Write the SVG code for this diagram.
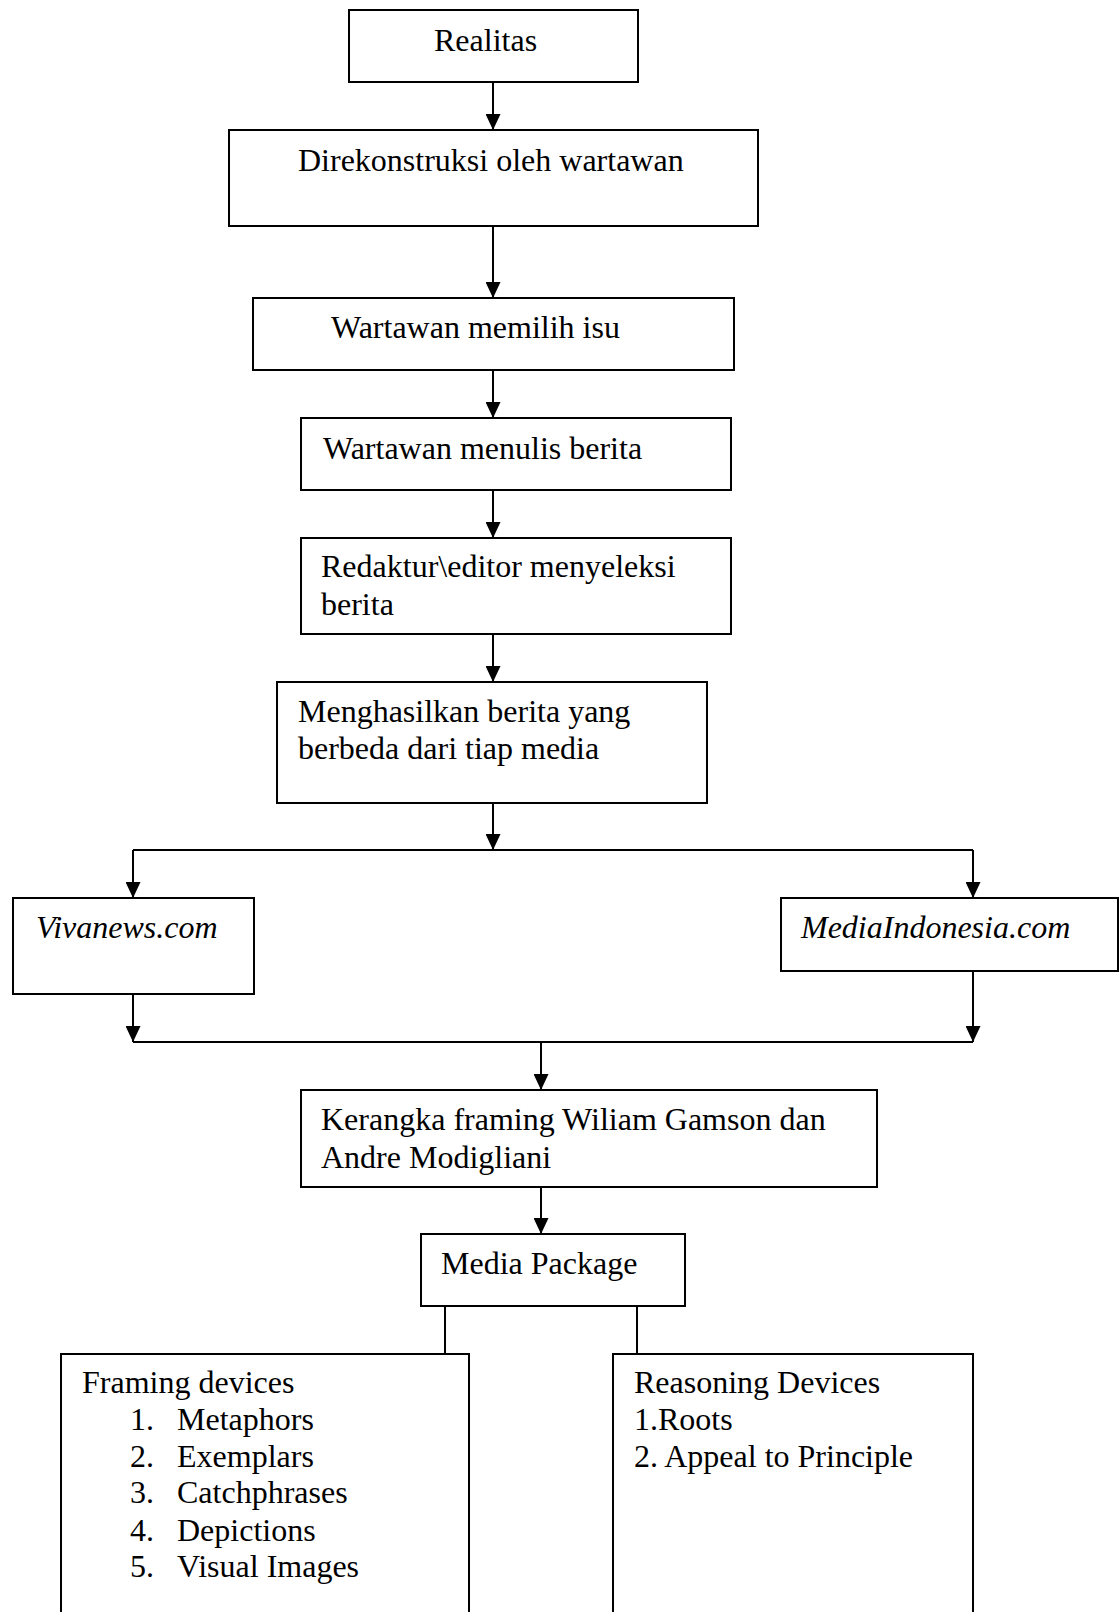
<svg xmlns="http://www.w3.org/2000/svg" width="1120" height="1612" viewBox="0 0 1120 1612">
<style>
rect{fill:#fff;stroke:#000;stroke-width:2}
line{stroke:#000;stroke-width:2}
text{font-family:"Liberation Serif","Times New Roman",serif;font-size:32px;fill:#000}
.it{font-style:italic}
</style>
<defs>
<marker id="ah" markerUnits="userSpaceOnUse" markerWidth="16" markerHeight="15" refX="16" refY="7.5" orient="auto">
<path d="M0,0 L16,7.5 L0,15 z" fill="#000"/>
</marker>
</defs>
<rect x="0" y="0" width="1120" height="1612" style="stroke:none"/>
<g id="connectors">
<line x1="493" y1="82" x2="493" y2="130" marker-end="url(#ah)"/>
<line x1="493" y1="226" x2="493" y2="298" marker-end="url(#ah)"/>
<line x1="493" y1="370" x2="493" y2="418" marker-end="url(#ah)"/>
<line x1="493" y1="490" x2="493" y2="538" marker-end="url(#ah)"/>
<line x1="493" y1="634" x2="493" y2="682" marker-end="url(#ah)"/>
<line x1="493" y1="803" x2="493" y2="850" marker-end="url(#ah)"/>
<line x1="133" y1="850" x2="973" y2="850"/>
<line x1="133" y1="850" x2="133" y2="898" marker-end="url(#ah)"/>
<line x1="973" y1="850" x2="973" y2="898" marker-end="url(#ah)"/>
<line x1="133" y1="994" x2="133" y2="1042" marker-end="url(#ah)"/>
<line x1="973" y1="971" x2="973" y2="1042" marker-end="url(#ah)"/>
<line x1="133" y1="1042" x2="973" y2="1042"/>
<line x1="541" y1="1042" x2="541" y2="1090" marker-end="url(#ah)"/>
<line x1="541" y1="1187" x2="541" y2="1234" marker-end="url(#ah)"/>
<line x1="445" y1="1306" x2="445" y2="1354"/>
<line x1="637" y1="1306" x2="637" y2="1354"/>
</g>
<g id="realitas"><rect x="349" y="10" width="289" height="72"/><text x="434" y="51">Realitas</text></g>
<g id="direkonstruksi"><rect x="229" y="130" width="529" height="96"/><text x="298" y="171">Direkonstruksi oleh wartawan</text></g>
<g id="memilih"><rect x="253" y="298" width="481" height="72"/><text x="331" y="338">Wartawan memilih isu</text></g>
<g id="menulis"><rect x="301" y="418" width="430" height="72"/><text x="323" y="459">Wartawan menulis berita</text></g>
<g id="redaktur"><rect x="301" y="538" width="430" height="96"/><text x="321" y="577">Redaktur\editor menyeleksi</text><text x="321" y="615">berita</text></g>
<g id="menghasilkan"><rect x="277" y="682" width="430" height="121"/><text x="298" y="722">Menghasilkan berita yang</text><text x="298" y="759">berbeda dari tiap media</text></g>
<g id="vivanews"><rect x="13" y="898" width="241" height="96"/><text class="it" x="36" y="938">Vivanews.com</text></g>
<g id="mediaindonesia"><rect x="781" y="898" width="337" height="73"/><text class="it" x="801" y="938">MediaIndonesia.com</text></g>
<g id="kerangka"><rect x="301" y="1090" width="576" height="97"/><text x="321" y="1130">Kerangka framing Wiliam Gamson dan</text><text x="321" y="1168">Andre Modigliani</text></g>
<g id="mediapackage"><rect x="421" y="1234" width="264" height="72"/><text x="441" y="1274">Media Package</text></g>
<g id="framing"><rect x="61" y="1354" width="408" height="280"/>
<text x="82" y="1393">Framing devices</text>
<text x="130" y="1430">1.</text><text x="177" y="1430">Metaphors</text>
<text x="130" y="1467">2.</text><text x="177" y="1467">Exemplars</text>
<text x="130" y="1503">3.</text><text x="177" y="1503">Catchphrases</text>
<text x="130" y="1541">4.</text><text x="177" y="1541">Depictions</text>
<text x="130" y="1577">5.</text><text x="177" y="1577">Visual Images</text>
</g>
<g id="reasoning"><rect x="613" y="1354" width="360" height="280"/>
<text x="634" y="1393">Reasoning Devices</text>
<text x="634" y="1430">1.Roots</text>
<text x="634" y="1467">2. Appeal to Principle</text>
</g>
</svg>
